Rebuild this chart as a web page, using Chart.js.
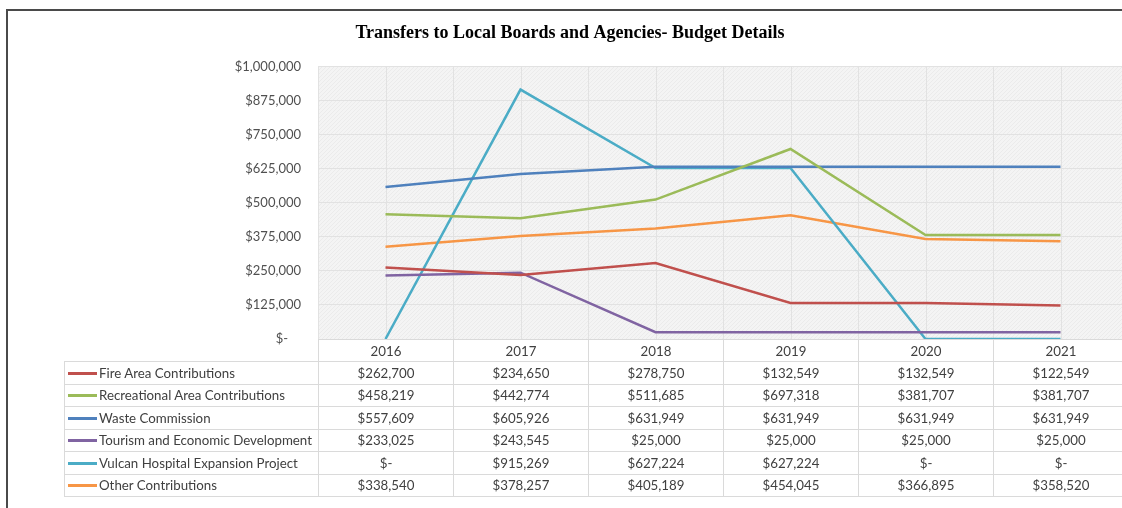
<!DOCTYPE html>
<html>
<head>
<meta charset="utf-8">
<script src="https://cdn.jsdelivr.net/npm/chart.js@4.4.1/dist/chart.umd.min.js"></script>
<style>
  html, body { margin:0; padding:0; background:#fff; overflow:hidden; width:1122px; height:508px; }
  #wrap { position:absolute; left:0; top:0; width:1140px; height:508px; }
  #frame { position:absolute; left:6px; top:9px; width:1200px; height:600px; border-top:2px solid #4a4a4a; border-left:2px solid #4a4a4a; pointer-events:none; }
  #tbl { position:absolute; border-collapse:collapse; font-family:Lato, sans-serif; font-size:13.3px; color:#404040; table-layout:fixed; }
  #tbl td { border:1px solid #dadada; padding:0; text-align:center; white-space:nowrap; overflow:hidden; }
  #tbl td.name { text-align:left; }
  #tbl tr.head td.blank { border:none; }
  .key { display:inline-block; width:29px; height:3px; vertical-align:middle; margin:0 2px 2px 3px; }
</style>
</head>
<body>
<div id="wrap"><canvas id="c" width="1140" height="508"></canvas></div>
<div id="frame"></div>
<script>
const years = ['2016', '2017', '2018', '2019', '2020', '2021'];
const seriesNames = ['Fire Area Contributions', 'Recreational Area Contributions', 'Waste Commission', 'Tourism and Economic Development', 'Vulcan Hospital Expansion Project', 'Other Contributions'];
const fireArea = [262700, 234650, 278750, 132549, 132549, 122549];
const recreationalArea = [458219, 442774, 511685, 697318, 381707, 381707];
const wasteCommission = [557609, 605926, 631949, 631949, 631949, 631949];
const tourismEconomic = [233025, 243545, 25000, 25000, 25000, 25000];
const vulcanHospital = [0, 915269, 627224, 627224, 0, 0];
const otherContributions = [338540, 378257, 405189, 454045, 366895, 358520];
const yTicks = [0, 125000, 250000, 375000, 500000, 625000, 750000, 875000, 1000000];
const seriesColors = ['#C0504D', '#9BBB59', '#4F81BD', '#8064A2', '#4BACC6', '#F79646'];
const seriesValues = [fireArea, recreationalArea, wasteCommission, tourismEconomic, vulcanHospital, otherContributions];

function money(v) { return v === 0 ? '$-' : '$' + v.toLocaleString('en-US'); }

// background texture
const pc = document.createElement('canvas');
pc.width = 4; pc.height = 4;
const px = pc.getContext('2d');
px.fillStyle = '#f4f4f4'; px.fillRect(0, 0, 4, 4);
px.fillStyle = '#ebebeb';
px.fillRect(0, 0, 1, 1); px.fillRect(2, 2, 1, 1); px.fillRect(1, 3, 1, 1); px.fillRect(3, 1, 1, 1);

const bgPlugin = {
  id: 'bg',
  beforeDraw(chart) {
    const { ctx, chartArea: a } = chart;
    ctx.save();
    ctx.fillStyle = ctx.createPattern(pc, 'repeat');
    ctx.fillRect(a.left, a.top, a.right - a.left, a.bottom - a.top);
    ctx.restore();
  },
  beforeDatasetsDraw(chart) {
    const { ctx, chartArea: a, scales: { x } } = chart;
    ctx.save();
    ctx.strokeStyle = '#e2e2e2';
    ctx.lineWidth = 1;
    for (let i = 0; i < years.length; i++) {
      for (const off of [-0.5, 0]) {
        const xx = Math.round(x.getPixelForValue(i + off)) + 0.5;
        ctx.beginPath(); ctx.moveTo(xx, a.top); ctx.lineTo(xx, a.bottom); ctx.stroke();
      }
    }
    ctx.restore();
  }
};

const chart = new Chart(document.getElementById('c'), {
  type: 'line',
  data: {
    labels: years,
    datasets: seriesNames.map((n, i) => ({
      label: n,
      data: seriesValues[i],
      borderColor: seriesColors[i],
      backgroundColor: seriesColors[i],
      borderWidth: 2.5,
      pointRadius: 0,
      tension: 0,
      fill: false
    }))
  },
  options: {
    responsive: false,
    animation: false,
    layout: { padding: { left: 12, right: 12, top: 0, bottom: 169 } },
    plugins: {
      legend: { display: false },
      tooltip: { enabled: false },
      title: {
        display: true,
        text: 'Transfers to Local Boards and Agencies- Budget Details',
        color: '#000',
        font: { family: 'Liberation Serif', size: 18, weight: 'bold' },
        padding: { top: 22.5, bottom: 22.4 }
      }
    },
    scales: {
      x: { display: false, offset: true },
      y: {
        min: 0, max: 1000000,
        afterFit(s) { s.width = 306; },
        afterBuildTicks(s) { s.ticks = yTicks.map(v => ({ value: v })); },
        border: { display: false },
        grid: { color: '#e2e2e2', drawTicks: false },
        ticks: {
          padding: 17,
          color: '#505050',
          font: { family: 'Lato', size: 13 },
          callback: v => v === 0 ? '$-\u2002\u2002' : money(v)
        }
      }
    }
  },
  plugins: [bgPlugin]
});

// data table aligned to the chart's x scale
const xs = chart.scales.x;
const area = chart.chartArea;
const colW = xs.getPixelForValue(0.5) - xs.getPixelForValue(-0.5);
const tableLeft = 64;
const tbl = document.createElement('table');
tbl.id = 'tbl';
tbl.style.left = tableLeft + 'px';
tbl.style.top = Math.round(area.bottom) + 'px';
const cg = document.createElement('colgroup');
const c0 = document.createElement('col'); c0.style.width = (area.left - tableLeft) + 'px'; cg.appendChild(c0);
years.forEach(() => { const c = document.createElement('col'); c.style.width = colW + 'px'; cg.appendChild(c); });
tbl.appendChild(cg);
tbl.style.width = (area.left - tableLeft + colW * years.length) + 'px';
const head = document.createElement('tr');
head.className = 'head';
head.style.height = '22px';
const hb = document.createElement('td'); hb.className = 'blank'; head.appendChild(hb);
years.forEach(y => { const td = document.createElement('td'); td.textContent = y; head.appendChild(td); });
tbl.appendChild(head);
seriesNames.forEach((n, i) => {
  const tr = document.createElement('tr');
  tr.style.height = '22.5px';
  const td = document.createElement('td'); td.className = 'name';
  const k = document.createElement('span'); k.className = 'key'; k.style.background = seriesColors[i];
  td.appendChild(k); td.appendChild(document.createTextNode(n));
  tr.appendChild(td);
  seriesValues[i].forEach(v => { const c = document.createElement('td'); c.textContent = money(v); tr.appendChild(c); });
  tbl.appendChild(tr);
});
document.body.appendChild(tbl);
</script>
</body>
</html>
